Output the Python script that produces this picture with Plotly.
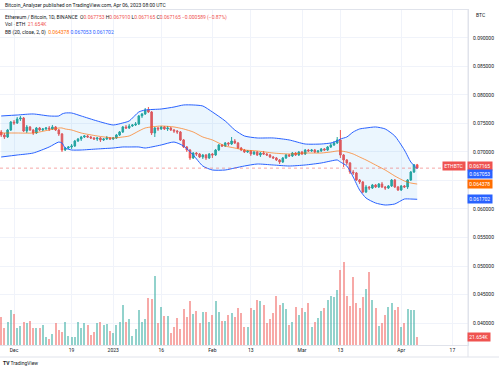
import plotly.graph_objects as go
import pandas as pd

# ---------------- data ----------------
start_date = "2022-11-27"

open_ = [
    0.07351, 0.07298, 0.07263, 0.07386, 0.07526, 0.07509, 0.07579, 0.07596, 0.07368, 0.07439,
    0.07386, 0.07333, 0.07421, 0.07386, 0.07404, 0.07421, 0.07404, 0.07439, 0.07386, 0.07316,
    0.07035, 0.07070, 0.07088, 0.07105, 0.07193, 0.07228, 0.07263, 0.07281, 0.07263, 0.07246,
    0.07228, 0.07246, 0.07211, 0.07228, 0.07246, 0.07228, 0.07246, 0.07298, 0.07351, 0.07439,
    0.07421, 0.07456, 0.07474, 0.07491, 0.07632, 0.07667, 0.07737, 0.07702, 0.07333, 0.07421,
    0.07404, 0.07439, 0.07404, 0.07421, 0.07386, 0.07368, 0.07351, 0.07211, 0.07088, 0.07035,
    0.06895, 0.06982, 0.06965, 0.06912, 0.06947, 0.06895, 0.06965, 0.06947, 0.07035, 0.07123,
    0.07105, 0.07158, 0.07140, 0.07193, 0.07158, 0.07070, 0.07035, 0.07000, 0.07018, 0.06965,
    0.07000, 0.06947, 0.06982, 0.06965, 0.06947, 0.06912, 0.06895, 0.06860, 0.06825, 0.06895,
    0.06947, 0.06930, 0.06982, 0.06947, 0.07000, 0.06965, 0.07035, 0.07018, 0.07035, 0.07000,
    0.07018, 0.07053, 0.07035, 0.07088, 0.07123, 0.07158, 0.07211, 0.06947, 0.06860, 0.06807,
    0.06649, 0.06632, 0.06509, 0.06474, 0.06298, 0.06386, 0.06368, 0.06421, 0.06386, 0.06439,
    0.06386, 0.06368, 0.06404, 0.06509, 0.06386, 0.06333, 0.06404, 0.06386, 0.06509, 0.06649,
    0.067753,
]
high = [
    0.07386, 0.07333, 0.07404, 0.07544, 0.07561, 0.07614, 0.07632, 0.07614, 0.07474, 0.07456,
    0.07404, 0.07439, 0.07439, 0.07421, 0.07439, 0.07456, 0.07474, 0.07456, 0.07404, 0.07333,
    0.07088, 0.07105, 0.07140, 0.07211, 0.07246, 0.07281, 0.07298, 0.07298, 0.07281, 0.07263,
    0.07263, 0.07263, 0.07246, 0.07281, 0.07263, 0.07263, 0.07316, 0.07368, 0.07456, 0.07474,
    0.07491, 0.07491, 0.07526, 0.07649, 0.07684, 0.07772, 0.07789, 0.07719, 0.07439, 0.07439,
    0.07456, 0.07456, 0.07456, 0.07439, 0.07404, 0.07386, 0.07368, 0.07228, 0.07105, 0.07053,
    0.07000, 0.07000, 0.06982, 0.06965, 0.06965, 0.06982, 0.06982, 0.07053, 0.07140, 0.07140,
    0.07175, 0.07175, 0.07263, 0.07228, 0.07175, 0.07088, 0.07053, 0.07035, 0.07035, 0.07018,
    0.07018, 0.07000, 0.07018, 0.06982, 0.06965, 0.06930, 0.06912, 0.06877, 0.06912, 0.06965,
    0.06965, 0.07000, 0.07000, 0.07018, 0.07018, 0.07053, 0.07053, 0.07053, 0.07053, 0.07035,
    0.07070, 0.07070, 0.07105, 0.07158, 0.07193, 0.07263, 0.07386, 0.06965, 0.06877, 0.06825,
    0.06684, 0.06649, 0.06526, 0.06491, 0.06421, 0.06404, 0.06439, 0.06439, 0.06456, 0.06474,
    0.06404, 0.06421, 0.06526, 0.06526, 0.06404, 0.06421, 0.06421, 0.06526, 0.06667, 0.06789,
    0.067910,
]
low = [
    0.07263, 0.07228, 0.07246, 0.07368, 0.07474, 0.07491, 0.07544, 0.07351, 0.07333, 0.07368,
    0.07298, 0.07316, 0.07368, 0.07368, 0.07386, 0.07368, 0.07386, 0.07368, 0.07281, 0.07000,
    0.07018, 0.07053, 0.07053, 0.07088, 0.07175, 0.07193, 0.07246, 0.07246, 0.07228, 0.07211,
    0.07193, 0.07175, 0.07193, 0.07211, 0.07211, 0.07211, 0.07228, 0.07281, 0.07333, 0.07404,
    0.07404, 0.07439, 0.07456, 0.07474, 0.07596, 0.07649, 0.07684, 0.07298, 0.07263, 0.07368,
    0.07386, 0.07386, 0.07368, 0.07368, 0.07333, 0.07316, 0.07193, 0.07070, 0.07000, 0.06860,
    0.06877, 0.06930, 0.06895, 0.06877, 0.06860, 0.06877, 0.06895, 0.06930, 0.07018, 0.07088,
    0.07088, 0.07105, 0.07123, 0.07140, 0.07053, 0.07018, 0.06982, 0.06982, 0.06930, 0.06947,
    0.06930, 0.06912, 0.06947, 0.06930, 0.06895, 0.06877, 0.06842, 0.06789, 0.06807, 0.06877,
    0.06912, 0.06912, 0.06930, 0.06930, 0.06947, 0.06947, 0.07000, 0.07000, 0.06982, 0.06982,
    0.07000, 0.07018, 0.07018, 0.07070, 0.07105, 0.07140, 0.06895, 0.06737, 0.06772, 0.06614,
    0.06596, 0.06491, 0.06439, 0.06281, 0.06281, 0.06333, 0.06351, 0.06368, 0.06368, 0.06368,
    0.06333, 0.06351, 0.06386, 0.06368, 0.06316, 0.06316, 0.06368, 0.06351, 0.06491, 0.06632,
    0.067165,
]
close = [
    0.07298, 0.07263, 0.07386, 0.07526, 0.07509, 0.07579, 0.07596, 0.07368, 0.07439, 0.07386,
    0.07333, 0.07421, 0.07386, 0.07404, 0.07421, 0.07404, 0.07439, 0.07386, 0.07316, 0.07035,
    0.07070, 0.07088, 0.07105, 0.07193, 0.07228, 0.07263, 0.07281, 0.07263, 0.07246, 0.07228,
    0.07246, 0.07211, 0.07228, 0.07246, 0.07228, 0.07246, 0.07298, 0.07351, 0.07439, 0.07421,
    0.07456, 0.07474, 0.07491, 0.07632, 0.07667, 0.07737, 0.07702, 0.07333, 0.07421, 0.07404,
    0.07439, 0.07404, 0.07421, 0.07386, 0.07368, 0.07351, 0.07211, 0.07088, 0.07035, 0.06895,
    0.06982, 0.06965, 0.06912, 0.06947, 0.06895, 0.06965, 0.06947, 0.07035, 0.07123, 0.07105,
    0.07158, 0.07140, 0.07193, 0.07158, 0.07070, 0.07035, 0.07000, 0.07018, 0.06965, 0.07000,
    0.06947, 0.06982, 0.06965, 0.06947, 0.06912, 0.06895, 0.06860, 0.06825, 0.06895, 0.06947,
    0.06930, 0.06982, 0.06947, 0.07000, 0.06965, 0.07035, 0.07018, 0.07035, 0.07000, 0.07018,
    0.07053, 0.07035, 0.07088, 0.07123, 0.07158, 0.07211, 0.06947, 0.06860, 0.06807, 0.06649,
    0.06632, 0.06509, 0.06474, 0.06298, 0.06386, 0.06368, 0.06421, 0.06386, 0.06439, 0.06386,
    0.06368, 0.06404, 0.06509, 0.06386, 0.06333, 0.06404, 0.06386, 0.06509, 0.06649, 0.067754,
    0.067165,
]
volume_k = [
    76, 46, 62, 95, 84, 46, 51, 62, 60, 65,
    46, 46, 46, 54, 22, 16, 30, 60, 41, 35,
    62, 24, 22, 22, 62, 46, 60, 54, 27, 35,
    60, 62, 54, 57, 38, 32, 54, 62, 108, 62,
    70, 24, 43, 95, 62, 70, 127, 125, 187, 60,
    103, 78, 78, 32, 49, 73, 43, 97, 76, 119,
    84, 92, 60, 89, 89, 62, 81, 119, 89, 65,
    65, 81, 86, 76, 100, 86, 49, 49,
    100, 95, 122, 119, 108, 60, 70, 86, 132, 108,
    114, 97, 54, 62, 103, 81, 100, 89, 114, 49,
    62, 73, 92, 100, 122, 132, 130, 149, 203, 225,
    132, 105, 184, 114, 100, 130, 151, 198, 122, 100,
    51, 60, 81, 103, 114, 95, 103, 49, 60, 97,
    95, 95, 21.654,
]

bb_dates = [
    "2022-11-27", "2022-12-02", "2022-12-07", "2022-12-12", "2022-12-15", "2022-12-16",
    "2022-12-17", "2022-12-19", "2022-12-22", "2022-12-27", "2023-01-01", "2023-01-04",
    "2023-01-06", "2023-01-09", "2023-01-11", "2023-01-16", "2023-01-20", "2023-01-23",
    "2023-01-26", "2023-01-29", "2023-02-01", "2023-02-05", "2023-02-08", "2023-02-11",
    "2023-02-15", "2023-02-20", "2023-02-25", "2023-03-02", "2023-03-07", "2023-03-10",
    "2023-03-12", "2023-03-13", "2023-03-15", "2023-03-17", "2023-03-19", "2023-03-21",
    "2023-03-24", "2023-03-27", "2023-03-30", "2023-04-02", "2023-04-04", "2023-04-06",
]
bb_upper = [
    0.07632, 0.07649, 0.07667, 0.07632, 0.07632, 0.07667, 0.07684, 0.07684, 0.07632, 0.07544,
    0.07474, 0.07509, 0.07544, 0.07702, 0.07737, 0.07754, 0.07789, 0.07825, 0.07825, 0.07807,
    0.07702, 0.07544, 0.07386, 0.07281, 0.07246, 0.07246, 0.07211, 0.07140, 0.07140, 0.07158,
    0.07193, 0.07228, 0.07263, 0.07351, 0.07404, 0.07421, 0.07439, 0.07404, 0.07281, 0.07035,
    0.06825, 0.067053,
]
bb_basis = [
    0.07333, 0.07333, 0.07333, 0.07386, 0.07421, 0.07421, 0.07404, 0.07386, 0.07333, 0.07281,
    0.07246, 0.07263, 0.07281, 0.07368, 0.07421, 0.07456, 0.07439, 0.07404, 0.07351, 0.07263,
    0.07211, 0.07105, 0.07070, 0.07035, 0.07018, 0.06982, 0.06965, 0.06982, 0.06982, 0.07000,
    0.07018, 0.07018, 0.07000, 0.06965, 0.06912, 0.06860, 0.06772, 0.06684, 0.06579, 0.06491,
    0.06456, 0.064378,
]
bb_lower = [
    0.06912, 0.06947, 0.06982, 0.07088, 0.07175, 0.07158, 0.07070, 0.07035, 0.07035, 0.07053,
    0.07070, 0.07088, 0.07088, 0.07088, 0.07070, 0.07123, 0.07175, 0.07105, 0.06947, 0.06754,
    0.06684, 0.06684, 0.06719, 0.06754, 0.06789, 0.06772, 0.06754, 0.06772, 0.06807, 0.06842,
    0.06860, 0.06825, 0.06754, 0.06561, 0.06333, 0.06193, 0.06105, 0.06070, 0.06088, 0.06175,
    0.06175, 0.061702,
]

price_ticks = [0.040, 0.045, 0.050, 0.055, 0.060, 0.065, 0.070, 0.075, 0.080, 0.085, 0.090]
x_tick_dates = ["2022-12-01", "2022-12-19", "2023-01-01", "2023-01-16", "2023-02-01",
                "2023-02-13", "2023-03-01", "2023-03-13", "2023-04-01", "2023-04-17"]
x_tick_labels = ["Dec", "19", "2023", "16", "Feb", "13", "Mar", "13", "Apr", "17"]

# ---------------- figure ----------------
GREEN = "#26a69a"
RED = "#ef5350"
BLUE = "#2962ff"
ORANGE = "#ff6d00"
TXT = "#131722"
FONT = "Roboto"

dates = pd.date_range(start_date, periods=len(close), freq="D")
vol_colors = ["rgba(38,166,154,0.5)" if c >= o else "rgba(239,83,80,0.5)"
              for o, c in zip(open_, close)]

fig = go.Figure()

fig.add_trace(go.Bar(x=dates, y=volume_k, yaxis="y2", marker_color=vol_colors,
                     marker_line_width=0, width=0.68 * 86400000, hoverinfo="skip"))

fig.add_trace(go.Scatter(x=bb_dates, y=bb_upper, mode="lines",
                         line=dict(color=BLUE, width=1, shape="spline", smoothing=0.6),
                         opacity=0.6, hoverinfo="skip"))
fig.add_trace(go.Scatter(x=bb_dates, y=bb_lower, mode="lines",
                         line=dict(color=BLUE, width=1, shape="spline", smoothing=0.6),
                         fill="tonexty", fillcolor="rgba(33,150,243,0.09)",
                         opacity=0.6, hoverinfo="skip"))
fig.add_trace(go.Scatter(x=bb_dates, y=bb_basis, mode="lines",
                         line=dict(color=ORANGE, width=1, shape="spline", smoothing=0.6),
                         opacity=0.65, hoverinfo="skip"))

fig.add_trace(go.Candlestick(
    x=dates, open=open_, high=high, low=low, close=close,
    increasing=dict(line=dict(color=GREEN, width=1), fillcolor=GREEN),
    decreasing=dict(line=dict(color=RED, width=1), fillcolor=RED),
    whiskerwidth=0, hoverinfo="skip"))

last_close = close[-1]
prev_close = close[-2]
chg = last_close - prev_close
pct = chg / prev_close * 100

fig.add_shape(type="line", xref="paper", x0=0, x1=1, yref="y", y0=last_close, y1=last_close,
              line=dict(color=RED, width=1, dash="dot"), opacity=0.5)

# frame / separators
fig.add_shape(type="line", xref="paper", yref="paper", x0=0, x1=499 / 468, y0=-12 / 335, y1=-12 / 335,
              line=dict(color="#e0e3eb", width=1))
fig.add_shape(type="line", xref="paper", yref="paper", x0=1, x1=1, y0=-12 / 335, y1=1,
              line=dict(color="#e0e3eb", width=1))

def fmt(v):
    return f"{v:.6f}"

def red(s):
    return f'<span style="color:{RED}">{s}</span>'

annotations = []

def header(text, ypx, size=5):
    annotations.append(dict(xref="paper", yref="paper", x=0, y=(345 - ypx) / 335,
                            xanchor="left", yanchor="middle", xshift=3, text=text,
                            showarrow=False, font=dict(size=size, color=TXT, family=FONT)))

header("Bitcoin_Analyzer published on TradingView.com, Apr 06, 2023 08:00 UTC", 5)
header("Ethereum / Bitcoin, 1D, BINANCE  "
       f"O{red(fmt(open_[-1]))} H{red(fmt(high[-1]))} L{red(fmt(low[-1]))} C{red(fmt(last_close))} "
       f"{red(f'−{abs(chg):.6f} (−{abs(pct):.2f}%)')}", 17)
header(f"Vol · ETH  {red(f'{volume_k[-1]:.3f}K')}", 24.5)
header(f"BB (20, close, 2, 0)  <span style=\"color:{ORANGE}\">{fmt(bb_basis[-1])}</span> "
       f"<span style=\"color:{BLUE}\">{fmt(bb_upper[-1])}</span> "
       f"<span style=\"color:{BLUE}\">{fmt(bb_lower[-1])}</span>", 32)

annotations.append(dict(xref="paper", yref="paper", x=1, y=(345 - 15) / 335, xanchor="left",
                        yanchor="middle", xshift=6, text="BTC", showarrow=False,
                        font=dict(size=5, color=TXT, family=FONT)))
annotations.append(dict(xref="paper", yref="paper", x=0, y=(345 - 363) / 335, xanchor="left",
                        yanchor="middle", xshift=1, text="<b>TV</b> TradingView", showarrow=False,
                        font=dict(size=5, color=TXT, family=FONT)))

def axis_label(text, y, yref, color, yshift=0, xanchor="left", xshift=-1):
    annotations.append(dict(xref="paper", yref=yref, x=1, y=y, xanchor=xanchor, yanchor="middle",
                            xshift=xshift, yshift=yshift, text=text, showarrow=False,
                            bgcolor=color, borderpad=1.2,
                            font=dict(size=5, color="white", family=FONT)))

axis_label("ETHBTC", last_close, "y", RED, yshift=2, xanchor="right", xshift=-2)
axis_label(fmt(last_close), last_close, "y", RED, yshift=2)
axis_label(fmt(bb_upper[-1]), bb_upper[-1], "y", BLUE, yshift=-5)
axis_label(fmt(bb_basis[-1]), bb_basis[-1], "y", ORANGE)
axis_label(fmt(bb_lower[-1]), bb_lower[-1], "y", BLUE)
axis_label(f"{volume_k[-1]:.3f}K", volume_k[-1], "y2", RED)

fig.update_layout(
    width=499, height=366,
    margin=dict(l=0, r=31, t=10, b=21),
    paper_bgcolor="white", plot_bgcolor="white",
    showlegend=False,
    font=dict(family=FONT, size=5, color=TXT),
    annotations=annotations,
    bargap=0,
    xaxis=dict(type="date", range=["2022-11-26 15:00", "2023-04-21 21:00"],
               tickvals=x_tick_dates, ticktext=x_tick_labels,
               showgrid=True, gridcolor="#f0f3fa", gridwidth=1,
               showline=True, linecolor="#e0e3eb", mirror=True,
               ticks="", tickfont=dict(size=5, color=TXT), rangeslider=dict(visible=False),
               zeroline=False, fixedrange=True),
    yaxis=dict(side="right", range=[0.03614, 0.09491],
               tickvals=price_ticks,
               ticktext=[fmt(t) if abs(t - 0.065) > 1e-9 else "" for t in price_ticks],
               showgrid=True, gridcolor="#f0f3fa", gridwidth=1,
               showline=True, linecolor="#e0e3eb",
               ticks="", tickfont=dict(size=5, color=TXT), ticklabelstandoff=3,
               zeroline=False),
    yaxis2=dict(overlaying="y", range=[0, 907], visible=False, fixedrange=True),
)

fig.write_html("out.html",
               config={"displayModeBar": False, "staticPlot": True},
               post_script="document.body.style.margin='0';document.body.style.overflow='hidden';")
